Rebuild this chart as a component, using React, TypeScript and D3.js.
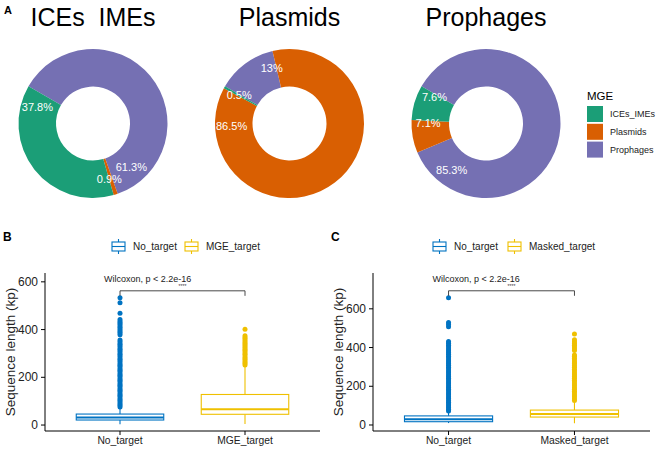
import React from "react";
import * as d3 from "d3";

// ---------- Panel A data ----------
const mgeTypes = ["ICEs_IMEs", "Plasmids", "Prophages"];
const mgeColors = ["#1B9E77", "#D95F02", "#7570B3"];
const donutTitles = ["ICEs  IMEs", "Plasmids", "Prophages"];
const icesPct = [37.8, 0.9, 61.3];
const plasmidsPct = [0.5, 86.5, 13];
const prophagesPct = [7.6, 7.1, 85.3];
const donutData = [icesPct, plasmidsPct, prophagesPct];
// stacking order around the ring (clockwise)
const stackOrder = [2, 1, 0];

// ---------- Panel B data ----------
const bCats = ["No_target", "MGE_target"];
const bLower = [3, 4];
const bQ1 = [21, 45];
const bMedian = [32, 66];
const bQ3 = [46, 128];
const bUpper = [76, 246];
const bOutNo = [76, 83, 89, 97, 104, 110, 118, 125, 131, 139, 146, 152, 160, 167, 173, 181, 188, 194, 202, 209, 215, 223, 230, 236, 244, 251, 257, 265, 272, 278, 286, 293, 299, 307, 314, 320, 328, 335, 341, 349, 356, 378, 386, 392, 399, 407, 413, 421, 428, 434, 442, 468, 512, 533];
const bOutMge = [252, 259, 265, 272, 279, 285, 293, 299, 306, 313, 319, 326, 333, 340, 346, 353, 360, 367, 374, 401];
const bTicks = [0, 200, 400, 600];
const bDomain = [-25, 637];

// ---------- Panel C data ----------
const cCats = ["No_target", "Masked_target"];
const cLower = [10, 9];
const cQ1 = [17, 41];
const cMedian = [30, 57];
const cQ3 = [47, 77];
const cUpper = [70, 122];
const cOutNo = [72, 81, 90, 99, 108, 118, 127, 137, 146, 156, 165, 175, 184, 194, 203, 213, 222, 232, 241, 251, 260, 270, 279, 289, 298, 308, 317, 327, 336, 346, 355, 365, 374, 384, 393, 403, 412, 422, 431, 508, 519, 530, 657];
const cOutMasked = [127, 136, 146, 155, 165, 174, 184, 193, 203, 212, 222, 231, 241, 250, 260, 269, 279, 288, 298, 307, 317, 326, 336, 345, 355, 362, 385, 394, 403, 412, 421, 430, 440, 470];
const cTicks = [0, 200, 400, 600];
const cDomain = [-31, 785];

const groupColors = ["#0073C2", "#EFC000"];
const FONT = "Liberation Sans, Arial, Helvetica, sans-serif";

function Donut({ cx, cy, values, title }: { cx: number; cy: number; values: number[]; title: string }) {
  const R = 74.5;
  const r0 = 37;
  const ordered = stackOrder.map((i) => ({ i, v: values[i] }));
  const pie = d3
    .pie<{ i: number; v: number }>()
    .value((d) => d.v)
    .sort(null)
    .startAngle(-Math.PI / 3)
    .endAngle(-Math.PI / 3 + 2 * Math.PI);
  const arcs = pie(ordered);
  const arc = d3.arc<d3.PieArcDatum<{ i: number; v: number }>>().innerRadius(r0).outerRadius(R);
  const labR = 58;
  return (
    <g transform={`translate(${cx},${cy})`}>
      <text x={0} y={-97.5} textAnchor="middle" fontSize={25} fill="#000" style={{ whiteSpace: "pre" }}>
        {title}
      </text>
      {arcs.map((a) => (
        <path key={a.data.i} d={arc(a) || ""} fill={mgeColors[a.data.i]} />
      ))}
      {arcs.map((a) => {
        const ang = a.startAngle + 0.9 * (a.endAngle - a.startAngle);
        return (
          <text
            key={"l" + a.data.i}
            x={labR * Math.sin(ang)}
            y={-labR * Math.cos(ang)}
            textAnchor="middle"
            dominantBaseline="central"
            fontSize={11}
            fill="#fff"
          >
            {a.data.v + "%"}
          </text>
        );
      })}
    </g>
  );
}

function LegendKey({ x, y, color }: { x: number; y: number; color: string }) {
  return (
    <g stroke={color} strokeWidth={1.1} fill="#fff">
      <line x1={x + 6.5} x2={x + 6.5} y1={y - 3} y2={y} />
      <line x1={x + 6.5} x2={x + 6.5} y1={y + 9} y2={y + 12} />
      <rect x={x} y={y} width={13} height={9} />
      <line x1={x} x2={x + 13} y1={y + 4.5} y2={y + 4.5} />
    </g>
  );
}

function BoxPanel(props: {
  left: number;
  right: number;
  label: string;
  cats: string[];
  lower: number[];
  q1: number[];
  med: number[];
  q3: number[];
  upper: number[];
  outliers: number[][];
  ticks: number[];
  domain: number[];
  legendX: number[];
}) {
  const { left, right, label, cats, lower, q1, med, q3, upper, outliers, ticks, domain, legendX } = props;
  const top = 273;
  const bottom = 431;
  const x = d3.scalePoint<string>().domain(cats).range([left, right]).padding(0.6);
  const y = d3.scaleLinear().domain(domain).range([bottom, top]);
  const bw = x.step() * 0.7;
  const x1 = x(cats[0])!;
  const x2 = x(cats[1])!;
  const maxVal = d3.max(outliers.flat())!;
  const brY = y(maxVal) - 7;
  return (
    <g fontFamily={FONT}>
      <text x={left - 42} y={241} fontSize={12} fontWeight="bold" fill="#000">
        {label}
      </text>
      {/* legend */}
      {cats.map((c, i) => (
        <g key={"lg" + i}>
          <LegendKey x={legendX[i]} y={242} color={groupColors[i]} />
          <text x={legendX[i] + 21} y={250} fontSize={10} fill="#222">
            {c}
          </text>
        </g>
      ))}
      {/* boxes */}
      {cats.map((c, i) => {
        const cx = x(c)!;
        return (
          <g key={c} stroke={groupColors[i]} strokeWidth={1.1} fill="#fff">
            <line x1={cx} x2={cx} y1={y(lower[i])} y2={y(q1[i])} />
            <line x1={cx} x2={cx} y1={y(q3[i])} y2={y(upper[i])} />
            <rect x={cx - bw / 2} y={y(q3[i])} width={bw} height={y(q1[i]) - y(q3[i])} />
            <line x1={cx - bw / 2} x2={cx + bw / 2} y1={y(med[i])} y2={y(med[i])} strokeWidth={2} />
            {outliers[i].map((v, k) => (
              <circle key={k} cx={cx} cy={y(v)} r={2.5} fill={groupColors[i]} stroke="none" />
            ))}
          </g>
        );
      })}
      {/* axes */}
      <line x1={left} x2={left} y1={top} y2={bottom} stroke="#000" strokeWidth={1} />
      <line x1={left} x2={right} y1={bottom} y2={bottom} stroke="#000" strokeWidth={1} />
      {ticks.map((t) => (
        <g key={t}>
          <line x1={left - 4} x2={left} y1={y(t)} y2={y(t)} stroke="#000" />
          <text x={left - 7} y={y(t)} textAnchor="end" dominantBaseline="central" fontSize={12} fill="#222">
            {t}
          </text>
        </g>
      ))}
      {cats.map((c) => (
        <g key={"t" + c}>
          <line x1={x(c)!} x2={x(c)!} y1={bottom} y2={bottom + 4} stroke="#000" />
          <text x={x(c)!} y={444} textAnchor="middle" fontSize={10.3} fill="#222">
            {c}
          </text>
        </g>
      ))}
      <text
        transform={`translate(${left - 30},${(top + bottom) / 2}) rotate(-90)`}
        textAnchor="middle"
        fontSize={13.5}
        fill="#222"
      >
        Sequence length (kp)
      </text>
      {/* comparison bracket */}
      <path d={`M${x1},${brY + 5}V${brY}H${x2}V${brY + 5}`} fill="none" stroke="#333" strokeWidth={0.9} />
      <text x={x1 - 16} y={brY - 9} fontSize={9} fill="#222">
        Wilcoxon, p &lt; 2.2e-16
      </text>
      <text x={(x1 + x2) / 2} y={brY - 3} textAnchor="middle" fontSize={5} fill="#333">
        ****
      </text>
    </g>
  );
}

export default function App() {
  const centers = [93, 289.5, 486];
  return (
    <svg
      width={658}
      height={450}
      style={{ position: "absolute", left: 0, top: 0, background: "#fff" }}
      fontFamily={FONT}
    >
      <rect width={658} height={450} fill="#fff" />
      <text x={4} y={14} fontSize={11} fontWeight="bold" fill="#000">
        A
      </text>
      {donutData.map((vals, k) => (
        <Donut key={k} cx={centers[k]} cy={123.5} values={vals} title={donutTitles[k]} />
      ))}
      {/* MGE legend */}
      <text x={587} y={100} fontSize={11.5} fill="#000">
        MGE
      </text>
      {mgeTypes.map((m, i) => (
        <g key={m}>
          <rect x={587} y={106 + i * 17.8} width={16} height={16} fill={mgeColors[i]} />
          <text x={610} y={114 + i * 17.8} dominantBaseline="central" fontSize={9} fill="#222">
            {m}
          </text>
        </g>
      ))}
      <BoxPanel
        left={45}
        right={320}
        label="B"
        cats={bCats}
        lower={bLower}
        q1={bQ1}
        med={bMedian}
        q3={bQ3}
        upper={bUpper}
        outliers={[bOutNo, bOutMge]}
        ticks={bTicks}
        domain={bDomain}
        legendX={[112, 185]}
      />
      <BoxPanel
        left={373}
        right={650}
        label="C"
        cats={cCats}
        lower={cLower}
        q1={cQ1}
        med={cMedian}
        q3={cQ3}
        upper={cUpper}
        outliers={[cOutNo, cOutMasked]}
        ticks={cTicks}
        domain={cDomain}
        legendX={[433, 508]}
      />
    </svg>
  );
}
